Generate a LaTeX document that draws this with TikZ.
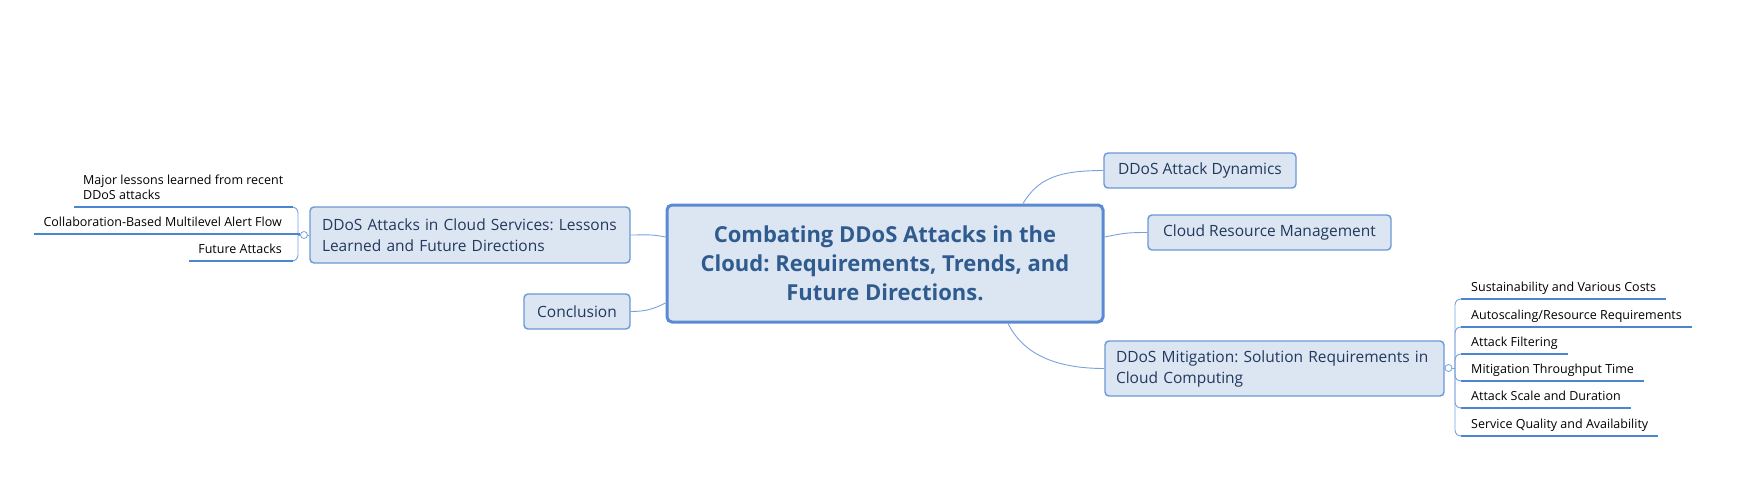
\documentclass[tikz,border=0pt]{standalone}
\usepackage{fontspec}
\setmainfont{Open Sans}
\frenchspacing
\definecolor{boxfill}{HTML}{DCE6F2}
\definecolor{boxdraw}{HTML}{6A98D6}
\definecolor{rootdraw}{HTML}{5A8AD2}
\definecolor{roottext}{HTML}{2F5B8F}
\definecolor{subtext}{HTML}{22385E}
\definecolor{leafline}{HTML}{4A86CF}
\definecolor{connline}{HTML}{78A2DC}
\begin{document}
\begin{tikzpicture}[x=1pt,y=-1pt,
  roottopic/.style={draw=rootdraw,line width=3pt,fill=boxfill,rounded corners=5pt,
    minimum width=436pt,minimum height=117pt,align=center,text=roottext,
    font=\bfseries\fontsize{22}{29}\selectfont,inner sep=0pt},
  subtopic/.style={draw=boxdraw,line width=1.4pt,fill=boxfill,rounded corners=4pt,
    text=subtext,font=\fontsize{15.5}{21}\selectfont,inner sep=0pt},
  leaf/.style={inner sep=0pt,text depth=7pt,font=\fontsize{12.5}{15}\selectfont,text=black},
  leafline/.style={draw=leafline,line width=2.4pt},
  conn/.style={draw=connline,line width=0.9pt},
  fold/.style={circle,draw=connline,fill=white,line width=0.8pt,minimum size=7pt,inner sep=0pt}]
\useasboundingbox (0,0) rectangle (1746,503);

% central topic
\node[roottopic] (root) at (885,263.5) {Combating DDoS Attacks in the\\Cloud: Requirements, Trends, and\\Future Directions.};

% main topics
\node[subtopic,minimum width=320pt,minimum height=56pt,text width=296pt,align=left] (lbox) at (470,235)
  {DDoS Attacks in Cloud Services: Lessons\\Learned and Future Directions};
\node[subtopic,minimum width=106pt,minimum height=35pt] (conc) at (577,311.5) {Conclusion};
\node[subtopic,minimum width=192pt,minimum height=35pt] (dyn) at (1200,170.5) {DDoS Attack Dynamics};
\node[subtopic,minimum width=243pt,minimum height=35pt] (cloud) at (1269.5,232.5) {Cloud Resource Management};
\node[subtopic,minimum width=339pt,minimum height=55pt,text width=317pt,align=left] (mit) at (1274.5,368.5)
  {DDoS Mitigation: Solution Requirements in\\Cloud Computing};

% connectors from the central topic
\draw[conn] ([xshift=138pt]root.north) .. controls +(15,-25) and +(-45,0) .. (dyn.west);
\draw[conn] ([yshift=26.5pt]root.east) .. controls +(20,-4) and +(-20,0) .. (cloud.west);
\draw[conn] ([xshift=123pt]root.south) .. controls +(15,30) and +(-50,0) .. (mit.west);
\draw[conn] ([yshift=26.5pt]root.west) .. controls +(-15,-3) and +(15,0) .. (lbox.east);
\draw[conn] ([yshift=-39.5pt]root.west) .. controls +(-12,6) and +(15,0) .. (conc.east);

% left leaves
\node[fold] (lc) at (304,235) {};
\draw[conn] (lbox.west) -- (lc.east);
\node[leaf,anchor=south west,align=left] (l1) at (83,207) {Major lessons learned from recent\\DDoS attacks};
\node[leaf,anchor=south east] (l2) at (282,234) {Collaboration-Based Multilevel Alert Flow};
\node[leaf,anchor=south east] (l3) at (282,261) {Future Attacks};
\coordinate (ls) at (298,235);
\draw[conn] (lc.west) -- (ls);
\draw[conn,rounded corners=6pt] (ls) |- ([xshift=11pt]l1.south east -| l3.south east);
\draw[conn,rounded corners=6pt] (ls) |- ([xshift=11pt]l3.south east);
\draw[leafline] ([xshift=-9pt]l1.south west) -- ([xshift=11pt]l1.south west -| l3.south east);
\draw[leafline] ([xshift=-9pt]l2.south west) -- (lc.west |- l2.south);
\draw[leafline] ([xshift=-9pt]l3.south west) -- ([xshift=11pt]l3.south east);

% right leaves
\node[fold] (rc) at (1448.5,368) {};
\draw[conn] (mit.east) -- (rc.west);
\coordinate (rs) at (1455,368);
\draw[conn] (rc.east) -- (rs);
\foreach \n/\y/\t in {r1/299/{Sustainability and Various Costs},
                      r2/327/{Autoscaling/Resource Requirements},
                      r3/354/{Attack Filtering},
                      r4/381/{Mitigation Throughput Time},
                      r5/408/{Attack Scale and Duration},
                      r6/436/{Service Quality and Availability}}{
  \node[leaf,anchor=south west] (\n) at (1471,\y) {\t};
  \draw[conn,rounded corners=6pt] (rs) |- ([xshift=-10pt]\n.south west);
  \draw[leafline] ([xshift=-10pt]\n.south west) -- ([xshift=10pt]\n.south east);
}
\end{tikzpicture}
\end{document}
